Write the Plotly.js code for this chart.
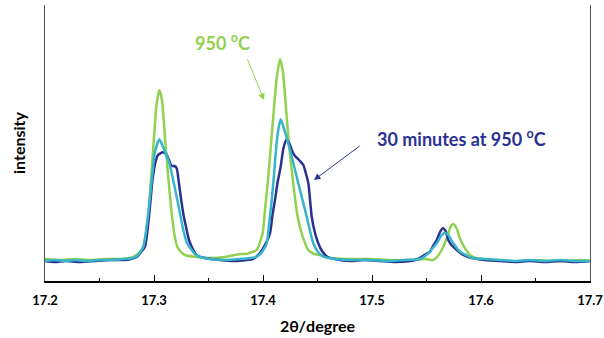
<!DOCTYPE html>
<html>
<head>
<meta charset="utf-8">
<script src="https://cdn.plot.ly/plotly-3.0.1.min.js"></script>
<style>html,body{margin:0;padding:0;background:#fff;}#chart{width:604px;height:338px;}</style>
</head>
<body>
<div id="chart"></div>
<script>
// 2theta (degree) and intensity (arbitrary counts)
const xGreen = [17.2000,17.2138,17.2275,17.2413,17.2550,17.2688,17.2780,17.2807,17.2853,17.2902,
  17.2948,17.2994,17.3023,17.3049,17.3073,17.3107,17.3133,17.3162,17.3188,17.3214,
  17.3248,17.3284,17.3392,17.3514,17.3651,17.3789,17.3850,17.3899,17.3942,17.3997,
  17.4018,17.4043,17.4069,17.4094,17.4124,17.4156,17.4183,17.4217,17.4248,17.4278,
  17.4312,17.4355,17.4416,17.4468,17.4523,17.4615,17.4798,17.4982,17.5165,17.5349,
  17.5486,17.5562,17.5596,17.5639,17.5691,17.5720,17.5746,17.5775,17.5801,17.5844,
  17.5899,17.5961,17.6083,17.6220,17.6358,17.6495,17.6633,17.6771,17.6908,17.7000];
const yGreen = [220,210,220,210,220,220,230,240,270,343,
  680,1343,1760,1910,1810,1343,1010,680,460,343,
  290,260,240,230,240,270,270,290,310,477,
  710,977,1310,1643,2010,2217,2090,1643,1260,977,
  680,477,310,270,260,230,220,220,210,210,
  220,210,240,310,443,540,570,530,443,343,
  260,227,210,200,200,210,200,200,210,200];

const xCyan = [17.2000,17.2092,17.2183,17.2275,17.2367,17.2505,17.2642,17.2734,17.2807,17.2853,
  17.2902,17.2948,17.2979,17.3009,17.3049,17.3083,17.3140,17.3208,17.3269,17.3303,
  17.3346,17.3385,17.3422,17.3514,17.3651,17.3789,17.3881,17.3942,17.3991,17.4034,
  17.4055,17.4080,17.4101,17.4119,17.4140,17.4162,17.4188,17.4248,17.4324,17.4401,
  17.4461,17.4505,17.4553,17.4661,17.4798,17.4982,17.5165,17.5303,17.5440,17.5517,
  17.5550,17.5594,17.5633,17.5670,17.5706,17.5746,17.5807,17.5862,17.5915,17.6037,
  17.6174,17.6312,17.6450,17.6587,17.6725,17.6862,17.7000];
const yCyan = [200,210,200,210,200,210,210,220,230,260,
  343,677,1010,1290,1417,1340,1180,843,510,380,
  310,260,240,220,210,220,230,243,290,377,
  560,810,1060,1310,1510,1617,1540,1310,977,643,
  377,290,243,220,210,210,200,210,220,277,
  320,377,450,483,450,377,293,260,230,220,
  210,200,210,200,210,200,200];

const xNavy = [17.2000,17.2092,17.2183,17.2321,17.2459,17.2596,17.2734,17.2789,17.2841,17.2881,
  17.2917,17.2957,17.2986,17.3014,17.3037,17.3080,17.3110,17.3138,17.3161,17.3188,
  17.3208,17.3225,17.3245,17.3271,17.3300,17.3321,17.3346,17.3376,17.3404,17.3468,
  17.3606,17.3743,17.3850,17.3908,17.3972,17.4018,17.4064,17.4087,17.4110,17.4133,
  17.4162,17.4188,17.4217,17.4248,17.4271,17.4294,17.4330,17.4370,17.4390,17.4416,
  17.4447,17.4477,17.4507,17.4541,17.4590,17.4661,17.4798,17.4936,17.5073,17.5211,
  17.5349,17.5422,17.5456,17.5495,17.5532,17.5560,17.5594,17.5624,17.5649,17.5675,
  17.5700,17.5729,17.5761,17.5798,17.5838,17.5881,17.5929,17.6037,17.6174,17.6312,
  17.6450,17.6587,17.6725,17.6862,17.7000];
const yNavy = [200,190,200,190,200,210,210,220,240,290,
  343,677,1010,1190,1260,1287,1270,1210,1150,1150,
  1127,1010,843,660,510,410,343,280,250,230,
  210,200,210,220,280,360,477,660,810,980,
  1143,1330,1417,1360,1290,1250,1210,1160,1090,977,
  643,480,377,300,243,220,200,210,200,190,
  200,220,243,270,293,350,410,490,527,500,
  410,360,327,290,260,240,227,210,200,190,
  200,190,200,190,200];

const xTickVals = [17.2, 17.3, 17.4, 17.5, 17.6, 17.7];
const xTickText = ['17.2', '17.3', '17.4', '17.5', '17.6', '17.7'];

const cGreen = '#92D050', cCyan = '#36B4C8', cNavy = '#2B3192';
const FONT = 'Lato, "Open Sans", sans-serif';

const traces = [
  {x: xGreen, y: yGreen, mode: 'lines', line: {color: cGreen, width: 2.5, shape: 'spline', smoothing: 0.6}, name: '950 °C'},
  {x: xNavy, y: yNavy, mode: 'lines', line: {color: cNavy, width: 2.5, shape: 'spline', smoothing: 0.6}, name: '30 minutes at 950 °C'},
  {x: xCyan, y: yCyan, mode: 'lines', line: {color: cCyan, width: 2.5, shape: 'spline', smoothing: 0.6}, name: 'intermediate'}
];

const layout = {
  width: 604, height: 338,
  margin: {l: 45, r: 14, t: 5, b: 57},
  paper_bgcolor: '#fff', plot_bgcolor: '#fff',
  showlegend: false,
  font: {family: FONT, color: '#000'},
  xaxis: {
    range: [17.2, 17.7],
    tickvals: xTickVals, ticktext: xTickText,
    ticks: 'inside', ticklen: 6, tickwidth: 1, tickcolor: '#000',
    minor: {dtick: 0.05, tick0: 17.2, ticks: 'inside', ticklen: 3, tickcolor: '#000', showgrid: false},
    showline: true, linecolor: '#000', linewidth: 2,
    showgrid: false, zeroline: false,
    tickfont: {family: FONT, size: 13, color: '#000', weight: 'bold'},
    ticklabelstandoff: 6,
    title: {text: '<b>2θ/degree</b>', font: {family: FONT, size: 16, color: '#000'}, standoff: 14}
  },
  yaxis: {
    range: [0, 2760],
    showticklabels: false, ticks: '',
    showline: true, linecolor: '#555', linewidth: 1, mirror: true,
    showgrid: false, zeroline: false,
    title: {text: '<b>intensity</b>', font: {family: FONT, size: 16, color: '#000'}, standoff: 14}
  },
  annotations: [
    {x: 17.4009, y: 1810, ax: -17, ay: -42, xref: 'x', yref: 'y',
      showarrow: true, arrowhead: 2, arrowsize: 1.3, arrowwidth: 1, arrowcolor: cGreen, text: ''},
    {xref: 'paper', yref: 'paper', x: (222 - 45) / 545, y: (281 - 42) / 276, xanchor: 'center', yanchor: 'middle',
      text: '<b>950 <sup>o</sup>C</b>', showarrow: false, font: {family: FONT, size: 18, color: cGreen}},
    {x: 17.4468, y: 1010, ax: 47, ay: -35, xref: 'x', yref: 'y',
      showarrow: true, arrowhead: 2, arrowsize: 1.3, arrowwidth: 1, arrowcolor: cNavy, text: ''},
    {xref: 'paper', yref: 'paper', x: (461 - 45) / 545, y: (281 - 138) / 276, xanchor: 'center', yanchor: 'middle',
      text: '<b>30 minutes at 950 <sup>o</sup>C</b>', showarrow: false, font: {family: FONT, size: 18, color: cNavy}}
  ]
};

Plotly.newPlot('chart', traces, layout, {staticPlot: true, displayModeBar: false});
</script>
</body>
</html>
